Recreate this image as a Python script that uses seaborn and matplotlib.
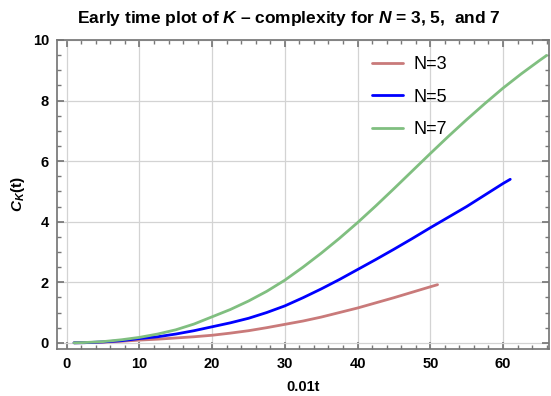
import pandas as pd
import matplotlib.pyplot as plt
import seaborn as sns
from matplotlib.ticker import MultipleLocator

# values
t_n3 = [1, 2.5, 5, 7.5, 10, 12.5, 15, 17.5, 20, 22.5, 25, 27.5, 30, 32.5, 35, 37.5,
        40, 42.5, 45, 47.5, 50, 51]
ck_n3 = [0.0, 0.005, 0.02, 0.05, 0.09, 0.12, 0.16, 0.2, 0.25, 0.32, 0.4, 0.5, 0.61,
         0.72, 0.85, 1.0, 1.15, 1.32, 1.49, 1.67, 1.85, 1.92]

t_n5 = [1, 2.5, 5, 7.5, 10, 12.5, 15, 17.5, 20, 22.5, 25, 27.5, 30, 32.5, 35, 37.5,
        40, 42.5, 45, 47.5, 50, 52.5, 55, 57.5, 60, 61]
ck_n5 = [0.0, 0.005, 0.03, 0.07, 0.14, 0.2, 0.29, 0.4, 0.53, 0.66, 0.81, 1.0, 1.22,
         1.49, 1.78, 2.09, 2.42, 2.75, 3.09, 3.44, 3.8, 4.15, 4.5, 4.88, 5.26, 5.4]

t_n7 = [1, 2.5, 5, 7.5, 10, 12.5, 15, 17.5, 20, 22.5, 25, 27.5, 30, 32.5, 35, 37.5,
        40, 42.5, 45, 47.5, 50, 52.5, 55, 57.5, 60, 62.5, 65, 66]
ck_n7 = [0.0, 0.01, 0.04, 0.1, 0.18, 0.29, 0.43, 0.62, 0.86, 1.1, 1.38, 1.7, 2.07,
         2.5, 2.96, 3.45, 3.97, 4.52, 5.09, 5.67, 6.25, 6.82, 7.37, 7.9, 8.41, 8.88,
         9.32, 9.49]

labels = ["N=3", "N=5", "N=7"]
colors = ["#c97a7a", "#0000ff", "#80bf80"]

df = pd.concat([
    pd.DataFrame({"t": t_n3, "ck": ck_n3, "series": labels[0]}),
    pd.DataFrame({"t": t_n5, "ck": ck_n5, "series": labels[1]}),
    pd.DataFrame({"t": t_n7, "ck": ck_n7, "series": labels[2]}),
])

sns.set_theme(style="ticks")
plt.rcParams['font.family'] = ['Liberation Sans', 'DejaVu Sans']
plt.rcParams['mathtext.fontset'] = 'custom'
plt.rcParams['mathtext.it'] = 'Liberation Sans:bold:italic'
plt.rcParams['mathtext.rm'] = 'Liberation Sans:bold'
plt.rcParams['text.color'] = 'black'
plt.rcParams['axes.labelcolor'] = 'black'
plt.rcParams['xtick.labelcolor'] = 'black'
plt.rcParams['ytick.labelcolor'] = 'black'

fig = plt.figure(figsize=(5.51, 3.96), dpi=100)
ax = fig.add_axes([0.104, 0.119, 0.892, 0.780])

sns.lineplot(data=df, x="t", y="ck", hue="series", palette=dict(zip(labels, colors)),
             linewidth=2, ax=ax, sort=True)

ax.set_xlim(-1.3, 66.3)
ax.set_ylim(-0.2, 10)
ax.xaxis.set_major_locator(MultipleLocator(10))
ax.xaxis.set_minor_locator(MultipleLocator(2))
ax.yaxis.set_major_locator(MultipleLocator(2))
ax.yaxis.set_minor_locator(MultipleLocator(0.5))
ax.grid(True, which="major", color="#d3d3d3", linewidth=0.9)
ax.tick_params(which="both", direction="in", color="#777777", top=True, right=True,
               labelsize=10.5, pad=6, labelcolor="black")
ax.tick_params(which="major", length=5)
ax.tick_params(which="minor", length=3)
for lab in ax.get_xticklabels() + ax.get_yticklabels():
    lab.set_fontweight("bold")
for s in ax.spines.values():
    s.set_color("#777777")

ax.set_xlabel("0.01t", fontsize=10.5, fontweight="bold", labelpad=6)
ax.set_ylabel(r"$C_K$(t)", fontsize=11, fontweight="bold", labelpad=4)
ax.set_title(r"Early time plot of $K$ – complexity for $N$ = 3, 5,  and 7",
             fontsize=12.5, fontweight="bold", pad=12, x=0.472, color="black")

leg = ax.legend(loc="upper left", bbox_to_anchor=(0.607, 1.0), frameon=False,
                fontsize=13, handlelength=1.7, labelspacing=0.85, handletextpad=0.6)
leg.set_title(None)
for txt in leg.get_texts():
    txt.set_color("black")

fig.savefig("out.png", dpi=100)
